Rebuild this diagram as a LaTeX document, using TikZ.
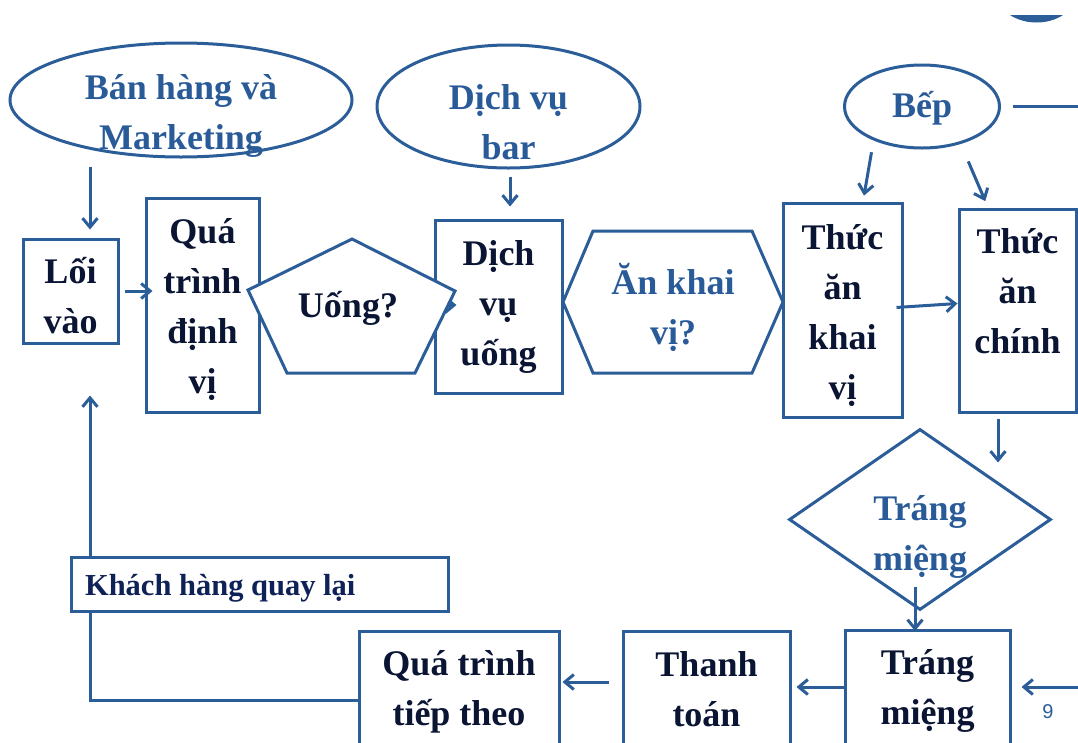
\documentclass[tikz,border=0pt]{standalone}
\usepackage{fontspec}
\setmainfont{Liberation Serif}
\newfontfamily\pagenumfont{Liberation Sans}
\usetikzlibrary{arrows.meta, shapes.geometric, calc}

\definecolor{lineblue}{HTML}{2B5D98}
\definecolor{textblue}{HTML}{2A5B99}
\definecolor{textdark}{HTML}{0A1433}
\definecolor{khtext}{HTML}{0F2257}

\newcommand\diagfont{\fontsize{36pt}{50pt}\selectfont\bfseries}
\newcommand\khfont{\fontsize{30.5pt}{38pt}\selectfont\bfseries}

\tikzset{
  conn/.style={draw=lineblue, line width=3pt},
  arr/.style={conn, -{Straight Barb[length=9pt,width=15pt]}},
  procbox/.style={conn, fill=white, rectangle, inner sep=0pt, align=center,
                  font=\diagfont, text=textdark},
  ell/.style={conn, ellipse, inner sep=0pt, fill=white},
  lblblue/.style={align=center, font=\diagfont, text=textblue},
  lbldark/.style={align=center, font=\diagfont, text=textdark},
}

\begin{document}
\begin{tikzpicture}[x=1pt, y=-1pt]
\useasboundingbox (0,0) rectangle (1078,742);
\clip (0,0) rectangle (1078,742);

% dark cap at the top right corner
\fill[lineblue] (1010,15) .. controls (1025,25) and (1048,25) .. (1063,15) -- cycle;

% source ellipses
\node[ell, minimum width=342pt, minimum height=114pt,
      label={[lblblue, yshift=-16pt]center:{Bán hàng và\\Marketing}}] (bh) at (181,100) {};
\node[ell, minimum width=263pt, minimum height=123pt,
      label={[lblblue, yshift=-16pt]center:{Dịch vụ\\bar}}] (dvb) at (508.5,106.5) {};
\node[ell, minimum width=155pt, minimum height=83pt,
      label={[lblblue, yshift=-2pt]center:{Bếp}}] (bep) at (922,106.5) {};
\coordinate (bepout) at (1090,106.5);
\draw[conn, shorten <=11.5pt] (bep.east) -- (bepout);

% process boxes, top row
\node[procbox, minimum width=95pt, minimum height=104pt,
      label={[lbldark, yshift=-5pt]center:{Lối\\vào}}] (lv) at (70.5,291) {};
\node[procbox, minimum width=113pt, minimum height=214pt,
      label={[lbldark, yshift=-5pt]center:{Quá\\trình\\định\\vị}}] (qt) at (202.5,305) {};
\node[procbox, minimum width=127pt, minimum height=173pt] (dvu) at (498.5,306.5) {Dịch\\vụ\\uống};
\node[procbox, minimum width=119pt, minimum height=214pt,
      label={[lbldark, yshift=-6pt]center:{Thức\\ăn\\khai\\vị}}] (tak) at (842.5,310) {};
\node[procbox, minimum width=117pt, minimum height=203pt,
      label={[lbldark, yshift=19.5pt]center:{Thức\\ăn\\chính}}] (tac) at (1017.5,310.5) {};

% returning customers
\node[procbox, text width=353pt, align=left, inner xsep=12pt, minimum height=54pt,
      font=\khfont, text=khtext,
      label={[font=\khfont, text=khtext, anchor=west, yshift=-4pt]west:{\hspace*{12pt}Khách hàng quay lại}}] (khq) at (259.5,584) {};

% process boxes, bottom row
\node[procbox, minimum width=200pt, minimum height=116pt, anchor=north,
      label={[lbldark, yshift=-2pt]center:{Quá trình\\tiếp theo}}] (qttt) at (459,630) {};
\node[procbox, minimum width=167pt, minimum height=116pt, anchor=north] (tt) at (706.5,630) {Thanh\\toán};
\node[procbox, minimum width=165pt, minimum height=116pt, anchor=north,
      label={[lbldark, yshift=-2pt]center:{Tráng\\miệng}}] (tm) at (927.5,629) {};

% drink path, mostly under the pentagon
\draw[arr, shorten >=-23pt] (qt.east) -- (qt.east -| dvu.west);

% decision: drinks
\draw[conn, fill=white] (352,239) -- (455,291) -- (415,373) -- (287,373) -- (248,290) -- cycle;
\node[lbldark] (uong) at (348,308) {Uống?};

% decision: starter
\draw[conn, fill=white] (563,302) -- (593,231) -- (752,231) -- (783,302) -- (752,373) -- (593,373) -- cycle;
\node[lblblue] (ankv) at (673,307) {Ăn khai\\vị?};

% decision: dessert
\node[diamond, conn, fill=white, minimum width=262pt, minimum height=181pt, inner sep=0pt,
      label={[lblblue, yshift=-17pt]center:{Tráng\\miệng}}] (dm) at (920,519.5) {};

% connectors
\coordinate (lvin) at ($(lv.north)+(19.5,0)$);
\draw[arr, shorten <=8pt, shorten >=8pt] (bh.south -| lvin) -- (lvin);
\draw[arr, shorten <=5pt, shorten >=-8pt] (lv.east) -- (lv.east -| qt.west);

\coordinate (dvuin) at ($(dvu.north)+(11.5,0)$);
\draw[arr, shorten <=7pt, shorten >=12pt] (dvuin |- dvb.south) -- (dvuin);

\coordinate (takin) at ($(tak.north)+(20.5,0)$);
\draw[arr, shorten <=12pt, shorten >=6pt] (bep.-145.8) -- (takin);
\coordinate (tacin) at ($(tac.north)+(-29.5,0)$);
\draw[arr, shorten <=19pt, shorten >=7pt] (bep.-44.7) -- (tacin);

\draw[arr, shorten <=-7pt] ($(tak.east)+(0,-3)$) -- ($(tac.west)+(0,-7)$);

\coordinate (tacout) at ($(tac.south)+(-19.5,0)$);
\draw[arr, shorten <=5pt, shorten >=57pt] (tacout) -- (tacout |- dm.center);

\coordinate (tmin) at ($(tm.north)+(-12.5,0)$);
\draw[arr, shorten <=-25pt, shorten >=-2pt] (tmin |- dm.south) -- (tmin);

\coordinate (redge) at (1085,687);
\draw[arr, shorten >=10pt] (redge) -- (redge -| tm.east);

\draw[arr, shorten <=-2pt, shorten >=5pt] (tm.west |- redge) -- (tt.east |- redge);
\draw[arr, shorten <=13pt, shorten >=2pt] ($(tt.north west)+(0,52)$) -- ($(qttt.north east)+(0,52)$);

% loop back to the entrance
\coordinate (kx) at ($(lv.south)+(19.5,0)$);
\draw[conn] ($(qttt.north west)+(0,70)$) -| (kx |- khq.south);
\draw[arr, shorten >=51pt] (kx |- khq.north) -- (kx);

% slide number
\node[font=\pagenumfont\fontsize{20pt}{24pt}\selectfont, text=lineblue] (pg) at (1048,712) {9};
\end{tikzpicture}
\end{document}
